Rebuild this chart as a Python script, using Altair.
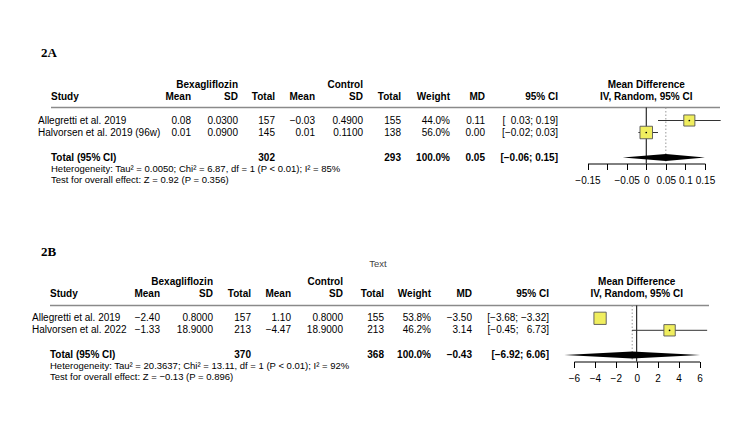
import altair as alt
import pandas as pd

FONT = "Liberation Sans"
SERIF = "Liberation Serif"
MINUS = "\u2212"
FSP = "\u2007"

# ---------------- data: panel 2A ----------------
A_label = "2A"
A_study = ["Allegretti et al. 2019", "Halvorsen et al. 2019 (96w)"]
A_mean_e = [0.08, 0.01]
A_sd_e = [0.03, 0.09]
A_n_e = [157, 145]
A_mean_c = [-0.03, 0.01]
A_sd_c = [0.49, 0.11]
A_n_c = [155, 138]
A_weight = [44.0, 56.0]
A_md = [0.11, 0.00]
A_lo = [0.03, -0.02]
A_hi = [0.19, 0.03]
A_total_n = [302, 293]
A_pooled = [0.05, -0.06, 0.15]  # MD, lower, upper
A_het = "Heterogeneity: Tau\u00b2 = 0.0050; Chi\u00b2 = 6.87, df = 1 (P < 0.01); I\u00b2 = 85%"
A_test = "Test for overall effect: Z = 0.92 (P = 0.356)"
A_ticks = [-0.15, -0.1, -0.05, 0, 0.05, 0.1, 0.15]
A_hidden_ticks = [-0.1]

# ---------------- data: panel 2B ----------------
B_label = "2B"
B_note = "Text"
B_study = ["Allegretti et al. 2019", "Halvorsen et al. 2022"]
B_mean_e = [-2.40, -1.33]
B_sd_e = [0.80, 18.90]
B_n_e = [157, 213]
B_mean_c = [1.10, -4.47]
B_sd_c = [0.80, 18.90]
B_n_c = [155, 213]
B_weight = [53.8, 46.2]
B_md = [-3.50, 3.14]
B_lo = [-3.68, -0.45]
B_hi = [-3.32, 6.73]
B_total_n = [370, 368]
B_pooled = [-0.43, -6.92, 6.06]
B_het = "Heterogeneity: Tau\u00b2 = 20.3637; Chi\u00b2 = 13.11, df = 1 (P < 0.01); I\u00b2 = 92%"
B_test = "Test for overall effect: Z = \u22120.13 (P = 0.896)"
B_ticks = [-6, -4, -2, 0, 2, 4, 6]
B_hidden_ticks = []

# ---------------- shared text ----------------
GROUP_LABELS = ["Bexagliflozin", "Control"]
COL_HEADERS = ["Mean", "SD", "Total", "Mean", "SD", "Total", "Weight", "MD", "95% CI"]
STUDY_HEADER = "Study"
FOREST_HEADER = ["Mean Difference", "IV, Random, 95% CI"]
TOTAL_LABEL = "Total (95% CI)"

# ---------------- layout (pixels inside each panel) ----------------
LAYOUT_A = dict(height=223, label=(41, 53), note=None, group_y=84.5, head_y=96.5,
                line_y=107.5, rows_y=[120.5, 132.5], total_y=157.5, het_y=168.5,
                test_y=179.5, axis_y=163.5, study_x=38, left_x=51, line_x=(51, 720),
                col_right=[191, 238, 275, 315, 363, 401, 450, 485, 558],
                fx_range=[587.5, 705.0], sq_max=280)
LAYOUT_B = dict(height=223, label=(41, 28.5), note=(378, 41), group_y=58.5, head_y=70.5,
                line_y=82.5, rows_y=[95.3, 107.3], total_y=132, het_y=143,
                test_y=153.5, axis_y=138.5, study_x=32, left_x=50, line_x=(50, 709),
                col_right=[160, 213, 251, 291, 343, 384, 431, 472, 549],
                fx_range=[573.9, 699.5], sq_max=190)

STYLES = {
    "label": dict(align="left", fontWeight="bold", fontSize=13, font=SERIF, color="black"),
    "note": dict(align="center", fontWeight="normal", fontSize=9.5, font=FONT, color="#444444"),
    "boldR": dict(align="right", fontWeight="bold", fontSize=10, font=FONT, color="black"),
    "boldL": dict(align="left", fontWeight="bold", fontSize=10, font=FONT, color="black"),
    "boldC": dict(align="center", fontWeight="bold", fontSize=10, font=FONT, color="black"),
    "cellL": dict(align="left", fontWeight="normal", fontSize=10, font=FONT, color="black"),
    "cellR": dict(align="right", fontWeight="normal", fontSize=10, font=FONT, color="black"),
    "small": dict(align="left", fontWeight="normal", fontSize=9.5, font=FONT, color="black"),
}


def num(v, d):
    return f"{v:.{d}f}".replace("-", MINUS)


def ci_strings(lo, hi):
    pad_lo = any(v < 0 for v in lo)
    pad_hi = any(v < 0 for v in hi)
    out = []
    for a, b in zip(lo, hi):
        sa = num(a, 2)
        sb = num(b, 2)
        if pad_lo and a >= 0:
            sa = FSP + sa
        if pad_hi and b >= 0:
            sb = FSP + sb
        out.append(f"[{sa}; {sb}]")
    return out


def make_panel(d, L):
    H = L["height"]
    cr = L["col_right"]
    cf = (sum(L["fx_range"]) / 2)
    T = []

    def add(text, x, y, style):
        T.append(dict(text=text, x=x, y=y, style=style))

    add(d["label"], L["label"][0], L["label"][1], "label")
    if L["note"] is not None:
        add(d["note"], L["note"][0], L["note"][1], "note")
    add(GROUP_LABELS[0], cr[1], L["group_y"], "boldR")
    add(GROUP_LABELS[1], cr[4], L["group_y"], "boldR")
    add(FOREST_HEADER[0], cf, L["group_y"], "boldC")
    add(FOREST_HEADER[1], cf, L["head_y"], "boldC")
    add(STUDY_HEADER, L["left_x"], L["head_y"], "boldL")
    for h, x in zip(COL_HEADERS, cr):
        add(h, x, L["head_y"], "boldR")

    cis = ci_strings(d["lo"], d["hi"])
    for i, y in enumerate(L["rows_y"]):
        add(d["study"][i], L["study_x"], y, "cellL")
        cells = [num(d["mean_e"][i], 2), num(d["sd_e"][i], 4), str(d["n_e"][i]),
                 num(d["mean_c"][i], 2), num(d["sd_c"][i], 4), str(d["n_c"][i]),
                 f"{d['weight'][i]:.1f}%", num(d["md"][i], 2), cis[i]]
        for c, x in zip(cells, cr):
            add(c, x, y, "cellR")

    ty = L["total_y"]
    add(TOTAL_LABEL, L["left_x"], ty, "boldL")
    p_md, p_lo, p_hi = d["pooled"]
    tot_cells = [(str(d["total_n"][0]), cr[2]), (str(d["total_n"][1]), cr[5]),
                 (f"{sum(d['weight']):.1f}%", cr[6]), (num(p_md, 2), cr[7]),
                 (f"[{num(p_lo, 2)}; {num(p_hi, 2)}]", cr[8])]
    for c, x in tot_cells:
        add(c, x, ty, "boldR")
    add(d["het"], L["left_x"], L["het_y"], "small")
    add(d["test"], L["left_x"], L["test_y"], "small")

    tdf = pd.DataFrame(T)
    layers = []
    for sname, st in STYLES.items():
        sub = tdf[tdf["style"] == sname]
        if sub.empty:
            continue
        layers.append(
            alt.Chart(sub).mark_text(baseline="middle", **st).encode(
                x=alt.X("x:Q", scale=None, axis=None),
                y=alt.Y("y:Q", scale=None, axis=None),
                text="text:N",
            )
        )

    # header rule
    layers.append(
        alt.Chart(pd.DataFrame({"k": [0]})).mark_rule(color="#8a8a8a", strokeWidth=1.5).encode(
            x=alt.value(L["line_x"][0]), x2=alt.value(L["line_x"][1]), y=alt.value(L["line_y"])
        )
    )

    ticks = d["ticks"]
    hidden = d["hidden"]
    fmt = "format(datum.value, '.2~f')"
    if hidden:
        cond = " || ".join(f"abs(datum.value - ({v})) < 1e-9" for v in hidden)
        lexpr = f"({cond}) ? '' : {fmt}"
    else:
        lexpr = fmt
    xscale = alt.Scale(domain=[ticks[0], ticks[-1]], range=L["fx_range"], nice=False, zero=False)
    xaxis = alt.Axis(values=ticks, labelExpr=lexpr, orient="bottom",
                     offset=L["axis_y"] - H, title=None, grid=False,
                     domainColor="black", tickColor="black", tickSize=6,
                     domainWidth=1, tickWidth=1, labelFont=FONT, labelFontSize=10,
                     labelColor="black", labelPadding=6, labelOverlap=False,
                     labelFlush=False, labelBound=False)

    def X(f):
        return alt.X(f"{f}:Q", scale=xscale, axis=xaxis)

    def Y(f):
        return alt.Y(f"{f}:Q", scale=None, axis=None)

    # squares: side length from weight; centre dot only where CI sticks out of the square
    px_per_unit = (L["fx_range"][1] - L["fx_range"][0]) / (ticks[-1] - ticks[0])
    sides = [(w / 100 * L["sq_max"]) ** 0.5 for w in d["weight"]]
    dots = [(h - l) * px_per_unit > s for l, h, s in zip(d["lo"], d["hi"], sides)]

    ref = pd.DataFrame({"x": [0.0], "y1": [L["line_y"]], "y2": [L["axis_y"]]})
    pooled_line = pd.DataFrame({"x": [p_md], "y1": [L["line_y"]], "y2": [L["axis_y"]]})
    sdf = pd.DataFrame({"md": d["md"], "lo": d["lo"], "hi": d["hi"],
                        "weight": d["weight"], "y": L["rows_y"], "dot": dots})
    h = 3.5
    dia = pd.DataFrame({"x": [p_lo, p_md, p_hi],
                        "y1": [ty, ty - h, ty], "y2": [ty, ty + h, ty]})

    forest = [
        alt.Chart(pooled_line).mark_rule(color="#999999", strokeWidth=1, strokeDash=[1.5, 2]).encode(
            x=X("x"), y=Y("y1"), y2="y2"),
        alt.Chart(ref).mark_rule(color="black", strokeWidth=1).encode(
            x=X("x"), y=Y("y1"), y2="y2"),
        alt.Chart(sdf).mark_rule(color="#333333", strokeWidth=1).encode(
            x=X("lo"), x2="hi", y=Y("y")),
        alt.Chart(sdf).mark_square(fill="#F0EE5E", stroke="#555555", strokeWidth=0.9, opacity=1).encode(
            x=X("md"), y=Y("y"),
            size=alt.Size("weight:Q", scale=alt.Scale(domain=[0, 100], range=[0, L["sq_max"]]), legend=None)),
        alt.Chart(sdf[sdf["dot"]]).mark_point(filled=True, size=3, color="black", opacity=1).encode(
            x=X("md"), y=Y("y")),
        alt.Chart(dia).mark_area(color="black", orient="vertical").encode(
            x=X("x"), y=Y("y1"), y2="y2"),
    ]
    return alt.layer(*layers, *forest).properties(width=750, height=H)


dA = dict(label=A_label, note=None, study=A_study, mean_e=A_mean_e, sd_e=A_sd_e, n_e=A_n_e,
          mean_c=A_mean_c, sd_c=A_sd_c, n_c=A_n_c, weight=A_weight, md=A_md, lo=A_lo, hi=A_hi,
          total_n=A_total_n, pooled=A_pooled, het=A_het, test=A_test, ticks=A_ticks,
          hidden=A_hidden_ticks)
dB = dict(label=B_label, note=B_note, study=B_study, mean_e=B_mean_e, sd_e=B_sd_e, n_e=B_n_e,
          mean_c=B_mean_c, sd_c=B_sd_c, n_c=B_n_c, weight=B_weight, md=B_md, lo=B_lo, hi=B_hi,
          total_n=B_total_n, pooled=B_pooled, het=B_het, test=B_test, ticks=B_ticks,
          hidden=B_hidden_ticks)

chart = alt.vconcat(make_panel(dA, LAYOUT_A), make_panel(dB, LAYOUT_B), spacing=0).properties(
    padding=0, background="white"
).configure_view(stroke=None)

chart.save("out.html", embed_options={"renderer": "svg", "actions": False})
